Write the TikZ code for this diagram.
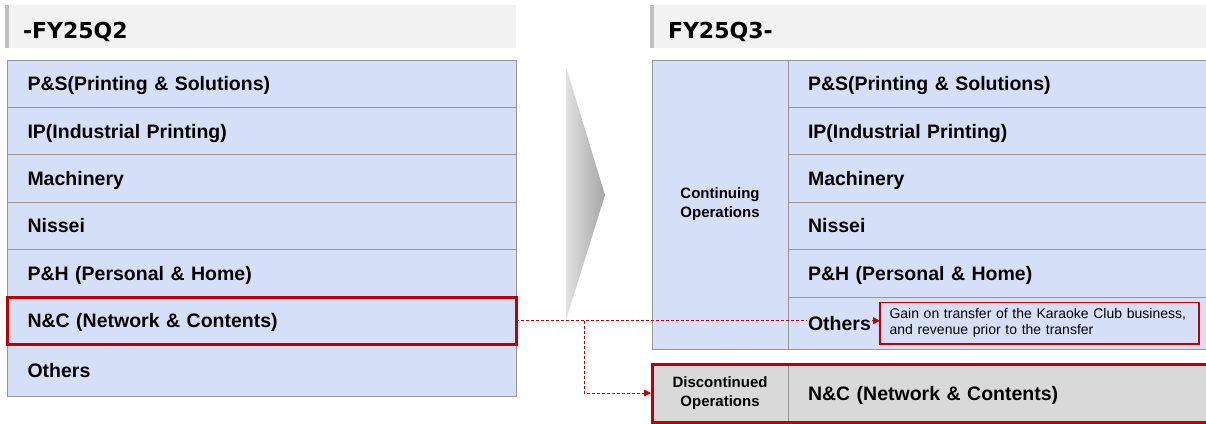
\documentclass[tikz,border=0pt]{standalone}
\usepackage{fontspec}
\setmainfont{Liberation Sans}
\newfontfamily\headfont{DejaVu Sans}
\usetikzlibrary{arrows.meta}

\definecolor{rowblue}{RGB}{214,223,248}
\definecolor{rowline}{RGB}{150,150,150}
\definecolor{headgray}{RGB}{242,242,242}
\definecolor{headbar}{RGB}{191,191,191}
\definecolor{discgray}{RGB}{217,217,217}
\definecolor{accent}{RGB}{192,0,0}
\definecolor{chevlight}{RGB}{224,224,224}
\definecolor{chevdark}{RGB}{165,165,165}

\begin{document}
\begin{tikzpicture}
  [
    x = 1pt, y = -1pt,
    every node/.style = {inner sep=0pt, outer sep=0pt},
    head/.style = {fill=headgray, anchor=north west, minimum height=43pt,
      inner xsep=18pt, text width=#1, align=left, text height=23pt, text depth=0pt,
      font=\headfont\bfseries\fontsize{22}{25}\selectfont},
    row/.style = {draw=rowline, fill=rowblue, line width=0.8pt, anchor=north west,
      minimum height=47.4pt, inner xsep=20pt, text width=#1, align=left,
      text height=14pt, text depth=0pt,
      font=\bfseries\fontsize{19.5}{22}\selectfont},
    row/.default = 468.5pt,
    seg/.style = {draw=rowline, line width=0.8pt, anchor=north west,
      minimum width=136pt, align=center,
      font=\bfseries\fontsize{15}{19}\selectfont},
    redbox/.style = {draw=accent, line width=3pt},
    link/.style = {accent, line width=0.8pt, dash pattern=on 3pt off 2pt,
      -{Triangle[length=7pt, width=7pt]}}
  ]
  \clip (0,0) rectangle (1206,423);

  % period headers
  \node [head=475pt] (Before) at (5,5) {-FY25Q2};
  \fill [headbar] (Before.north west) rectangle ([xshift=4pt]Before.south west);
  \node [head=540pt] (After) at (650,5) {FY25Q3-};
  \fill [headbar] (After.north west) rectangle ([xshift=4pt]After.south west);

  % old segments
  \node [row] (PS) at (7.5,60) {P\&S(Printing \& Solutions)};
  \node [row] (IP) at (PS.south west) {IP(Industrial Printing)};
  \node [row] (Mach) at (IP.south west) {Machinery};
  \node [row] (Nissei) at (Mach.south west) {Nissei};
  \node [row] (PH) at (Nissei.south west) {P\&H (Personal \& Home)};
  \node [row] (NC) at (PH.south west) {N\&C (Network \& Contents)};
  \node [row, minimum height=52pt] (Oth) at (NC.south west) {Others};
  \draw [redbox] (NC.north west) rectangle (NC.south east);

  % transition chevron
  \shade [left color=chevlight, right color=chevdark]
    (566,67) -- (605,195) -- (566,320) -- cycle;

  % new segments
  \node [seg, fill=rowblue, minimum height=289pt] (Cont) at (652,60)
    {Continuing\\Operations};
  \node [row=382pt] (PS2) at (Cont.north east) {P\&S(Printing \& Solutions)};
  \node [row=382pt] (IP2) at (PS2.south west) {IP(Industrial Printing)};
  \node [row=382pt] (Mach2) at (IP2.south west) {Machinery};
  \node [row=382pt] (Nissei2) at (Mach2.south west) {Nissei};
  \node [row=382pt] (PH2) at (Nissei2.south west) {P\&H (Personal \& Home)};
  \node [row=382pt, minimum height=52pt] (Oth2) at (PH2.south west) {};

  \node [seg, fill=discgray, minimum height=58pt] (Disc) at (652,364)
    {Discontinued\\Operations};
  \node [row=382pt, fill=discgray, minimum height=58pt] (NC2) at (Disc.north east)
    {N\&C (Network \& Contents)};
  \draw [redbox] (Disc.north west) rectangle (NC2.south east);

  % note on the karaoke business
  \node [draw=accent, line width=1.2pt, fill=rowblue, anchor=north west,
    inner xsep=9.5pt, text width=300pt, minimum height=41.3pt, align=left,
    font=\fontsize{14}{16}\selectfont] (Gain) at (880,302.7)
    {Gain on transfer of the Karaoke Club business,\\and revenue prior to the transfer};

  % where N&C goes
  \coordinate (Split) at ([xshift=68pt]NC.east);
  \draw [link] (NC.east) -- (NC.east -| Gain.west);
  \draw [link, shorten >=1pt] (Split) |- (Disc.west);

  \node [fill=rowblue, inner sep=1pt, anchor=west, text height=14pt, text depth=0pt,
    font=\bfseries\fontsize{19.5}{22}\selectfont] (Oth2Text) at ([xshift=19pt]Oth2.west) {Others};
\end{tikzpicture}
\end{document}
